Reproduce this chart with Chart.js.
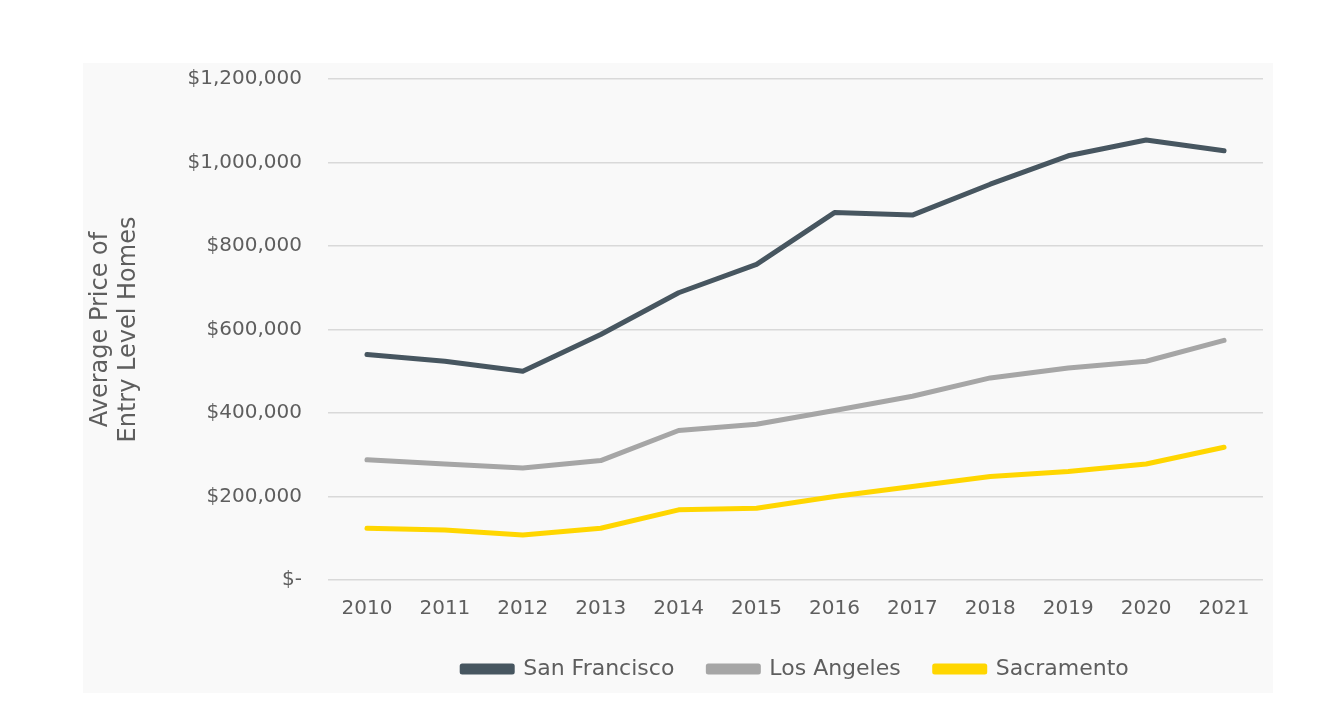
<!DOCTYPE html>
<html lang="en"><head>
<title>Entry Level Home Prices</title>
<meta charset="utf-8">
<style type="text/css">
body { margin:0; background-color:#ffffff; }
#panel { position:absolute; left:83px; top:63px; width:1190px; height:630px; background-color:#f9f9f9; }
</style>
<script src="https://cdn.jsdelivr.net/npm/chart.js"></script>
<script>
years=['2010','2011','2012','2013','2014','2015','2016','2017','2018','2019','2020','2021'];
sanFrancisco=[540000,524000,500000,588000,688000,756000,880000,874000,948000,1016000,1054000,1028000];
losAngeles=[288000,278000,268000,286000,358000,373000,406000,440000,484000,508000,524000,574000];
sacramento=[124000,120000,108000,124000,168000,172000,200000,224000,248000,260000,278000,318000];
yTicks=[0,200000,400000,600000,800000,1000000,1200000];

function money(v) {
  if (v==0) { return '$-'; }
  return '$'+v.toLocaleString('en-US'); }

function initChart() {
  tickFont={family:"'DejaVu Sans',sans-serif",size:20};
  data={labels:years,datasets:[{
    label:'San Francisco',data:sanFrancisco,
    borderColor:'#475660',backgroundColor:'#475660',borderWidth:5},{
    label:'Los Angeles',data:losAngeles,
    borderColor:'#a6a6a6',backgroundColor:'#a6a6a6',borderWidth:5},{
    label:'Sacramento',data:sacramento,
    borderColor:'#ffd600',backgroundColor:'#ffd600',borderWidth:5}]};

  config={type:'line',data,options:{
    responsive:true,maintainAspectRatio:false,animation:false,
    elements:{point:{radius:0},line:{tension:0,borderCapStyle:'round',borderJoinStyle:'round'}},
    layout:{padding:{top:16,right:10,bottom:3,left:0}},
    scales:{
      x:{offset:true,grid:{display:false,drawTicks:false},border:{display:false},
        afterFit:function(s){s.height=44;},
        ticks:{color:'#5e5e5e',font:tickFont,padding:17,maxRotation:0}},
      y:{min:0,max:1200000,grid:{color:'#d9d9d9',lineWidth:1.5,drawTicks:false},border:{display:false},
        afterBuildTicks:function(s){s.ticks=yTicks.map(function(v){return {value:v};});},
        afterFit:function(s){s.width=245; s.paddingTop=12; s.paddingBottom=12;},
        ticks:{color:'#5e5e5e',font:tickFont,padding:26,callback:function(v){return money(v);}},
        title:{display:true,text:['Average Price of','Entry Level Homes'],color:'#5e5e5e',
          font:{family:"'DejaVu Sans',sans-serif",size:24,lineHeight:1.15},padding:{top:4,bottom:0}}}},
    plugins:{
      tooltip:{enabled:false},
      legend:{position:'bottom',fullSize:false,
        labels:{boxWidth:50,boxHeight:6,padding:34,color:'#5e5e5e',
          font:{family:"'DejaVu Sans',sans-serif",size:22}}}}}};

  myChart=new Chart(document.getElementById('myChart'),config); }
</script></head>
<body onload="initChart();">
<div id="panel">
  <canvas id="myChart"></canvas>
</div>
</body></html>
